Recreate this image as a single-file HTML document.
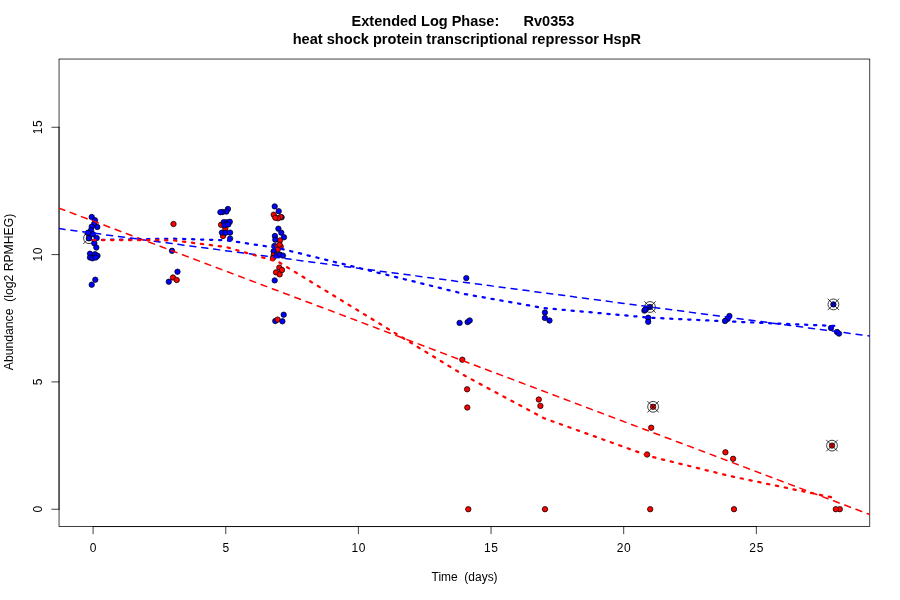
<!DOCTYPE html><html><head><meta charset="utf-8"><style>html,body{margin:0;padding:0;background:#fff;width:900px;height:600px;overflow:hidden}</style></head><body><svg width="900" height="600" viewBox="0 0 900 600" style="position:absolute;left:0;top:0;will-change:transform">
<rect width="900" height="600" fill="#fff"/>
<g stroke="#000" stroke-width="0.75" fill="none" stroke-linecap="round">
<rect x="59.04" y="59.04" width="810.72" height="467.5199999999999"/>
<path d="M93.10 526.56V533.76"/>
<path d="M225.75 526.56V533.76"/>
<path d="M358.40 526.56V533.76"/>
<path d="M491.05 526.56V533.76"/>
<path d="M623.70 526.56V533.76"/>
<path d="M756.35 526.56V533.76"/>
<path d="M59.04 509.24H51.839999999999996"/>
<path d="M59.04 381.92H51.839999999999996"/>
<path d="M59.04 254.60H51.839999999999996"/>
<path d="M59.04 127.28H51.839999999999996"/>
<path d="M93.10 526.56H756.35"/>
<path d="M59.04 509.24V127.28"/>
</g>
<g>
<circle cx="89" cy="238.2" r="2.7" fill="#0000ff" stroke="#000" stroke-width="0.75"/><circle cx="89" cy="238.2" r="5.4" fill="none" stroke="#000" stroke-width="0.75"/><path d="M83.3 232.5L94.7 243.89999999999998M83.3 243.89999999999998L94.7 232.5" stroke="#000" stroke-width="0.75" fill="none"/>
<circle cx="91.7" cy="217" r="2.7" fill="#0000ff" stroke="#000" stroke-width="0.75"/>
<circle cx="95" cy="220.3" r="2.7" fill="#0000ff" stroke="#000" stroke-width="0.75"/>
<circle cx="94.3" cy="223.7" r="2.7" fill="#0000ff" stroke="#000" stroke-width="0.75"/>
<circle cx="91.7" cy="226.7" r="2.7" fill="#0000ff" stroke="#000" stroke-width="0.75"/>
<circle cx="97.3" cy="227" r="2.7" fill="#0000ff" stroke="#000" stroke-width="0.75"/>
<circle cx="91" cy="230.3" r="2.7" fill="#0000ff" stroke="#000" stroke-width="0.75"/>
<circle cx="88" cy="232.7" r="2.7" fill="#0000ff" stroke="#000" stroke-width="0.75"/>
<circle cx="93" cy="234.3" r="2.7" fill="#0000ff" stroke="#000" stroke-width="0.75"/>
<circle cx="89" cy="238.2" r="2.7" fill="#0000ff" stroke="#000" stroke-width="0.75"/>
<circle cx="96.7" cy="238" r="2.7" fill="#0000ff" stroke="#000" stroke-width="0.75"/>
<circle cx="94.3" cy="243.3" r="2.7" fill="#0000ff" stroke="#000" stroke-width="0.75"/>
<circle cx="96.3" cy="247.5" r="2.7" fill="#0000ff" stroke="#000" stroke-width="0.75"/>
<circle cx="90" cy="253.7" r="2.7" fill="#0000ff" stroke="#000" stroke-width="0.75"/>
<circle cx="95" cy="254.2" r="2.7" fill="#0000ff" stroke="#000" stroke-width="0.75"/>
<circle cx="97.5" cy="255.8" r="2.7" fill="#0000ff" stroke="#000" stroke-width="0.75"/>
<circle cx="90" cy="257.5" r="2.7" fill="#0000ff" stroke="#000" stroke-width="0.75"/>
<circle cx="92.5" cy="258.3" r="2.7" fill="#0000ff" stroke="#000" stroke-width="0.75"/>
<circle cx="95.8" cy="257.5" r="2.7" fill="#0000ff" stroke="#000" stroke-width="0.75"/>
<circle cx="95.3" cy="279.7" r="2.7" fill="#0000ff" stroke="#000" stroke-width="0.75"/>
<circle cx="91.7" cy="284.7" r="2.7" fill="#0000ff" stroke="#000" stroke-width="0.75"/>
<circle cx="173.5" cy="224.0" r="2.7" fill="#ff0000" stroke="#000" stroke-width="0.75"/>
<circle cx="172" cy="250.8" r="2.7" fill="#0000ff" stroke="#000" stroke-width="0.75"/>
<circle cx="177.5" cy="271.7" r="2.7" fill="#0000ff" stroke="#000" stroke-width="0.75"/>
<circle cx="168.8" cy="281.7" r="2.7" fill="#0000ff" stroke="#000" stroke-width="0.75"/>
<circle cx="173" cy="277.5" r="2.7" fill="#ff0000" stroke="#000" stroke-width="0.75"/>
<circle cx="176.7" cy="280" r="2.7" fill="#ff0000" stroke="#000" stroke-width="0.75"/>
<circle cx="221.1" cy="224.8" r="2.7" fill="#ff0000" stroke="#000" stroke-width="0.75"/>
<circle cx="225.3" cy="228.5" r="2.7" fill="#ff0000" stroke="#000" stroke-width="0.75"/>
<circle cx="223" cy="236" r="2.7" fill="#ff0000" stroke="#000" stroke-width="0.75"/>
<circle cx="227.9" cy="209" r="2.7" fill="#0000ff" stroke="#000" stroke-width="0.75"/>
<circle cx="226.4" cy="211.6" r="2.7" fill="#0000ff" stroke="#000" stroke-width="0.75"/>
<circle cx="222.6" cy="212" r="2.7" fill="#0000ff" stroke="#000" stroke-width="0.75"/>
<circle cx="220.4" cy="212.2" r="2.7" fill="#0000ff" stroke="#000" stroke-width="0.75"/>
<circle cx="223.8" cy="222.1" r="2.7" fill="#0000ff" stroke="#000" stroke-width="0.75"/>
<circle cx="226.8" cy="222.3" r="2.7" fill="#0000ff" stroke="#000" stroke-width="0.75"/>
<circle cx="229.8" cy="221.8" r="2.7" fill="#0000ff" stroke="#000" stroke-width="0.75"/>
<circle cx="224.5" cy="225.3" r="2.7" fill="#0000ff" stroke="#000" stroke-width="0.75"/>
<circle cx="228.3" cy="224.4" r="2.7" fill="#0000ff" stroke="#000" stroke-width="0.75"/>
<circle cx="221.9" cy="232.6" r="2.7" fill="#0000ff" stroke="#000" stroke-width="0.75"/>
<circle cx="225.6" cy="232.8" r="2.7" fill="#0000ff" stroke="#000" stroke-width="0.75"/>
<circle cx="230.1" cy="232.6" r="2.7" fill="#0000ff" stroke="#000" stroke-width="0.75"/>
<circle cx="230.1" cy="238.6" r="2.7" fill="#0000ff" stroke="#000" stroke-width="0.75"/>
<circle cx="274.7" cy="206.4" r="2.7" fill="#0000ff" stroke="#000" stroke-width="0.75"/>
<circle cx="278.7" cy="211.2" r="2.7" fill="#0000ff" stroke="#000" stroke-width="0.75"/>
<circle cx="281.6" cy="217.3" r="2.7" fill="#0000ff" stroke="#000" stroke-width="0.75"/>
<circle cx="273.7" cy="214.7" r="2.7" fill="#ff0000" stroke="#000" stroke-width="0.75"/>
<circle cx="280.7" cy="217" r="2.7" fill="#ff0000" stroke="#000" stroke-width="0.75"/>
<circle cx="278" cy="218.3" r="2.7" fill="#ff0000" stroke="#000" stroke-width="0.75"/>
<circle cx="275.3" cy="217.7" r="2.7" fill="#ff0000" stroke="#000" stroke-width="0.75"/>
<circle cx="278.4" cy="228.7" r="2.7" fill="#0000ff" stroke="#000" stroke-width="0.75"/>
<circle cx="281.3" cy="232.7" r="2.7" fill="#0000ff" stroke="#000" stroke-width="0.75"/>
<circle cx="274.9" cy="236" r="2.7" fill="#0000ff" stroke="#000" stroke-width="0.75"/>
<circle cx="284" cy="237.3" r="2.7" fill="#0000ff" stroke="#000" stroke-width="0.75"/>
<circle cx="280" cy="240.4" r="2.7" fill="#ff0000" stroke="#000" stroke-width="0.75"/>
<circle cx="275.3" cy="239.7" r="2.7" fill="#0000ff" stroke="#000" stroke-width="0.75"/>
<circle cx="274.4" cy="246" r="2.7" fill="#0000ff" stroke="#000" stroke-width="0.75"/>
<circle cx="277.3" cy="246.7" r="2.7" fill="#ff0000" stroke="#000" stroke-width="0.75"/>
<circle cx="280.7" cy="246.7" r="2.7" fill="#ff0000" stroke="#000" stroke-width="0.75"/>
<circle cx="279.6" cy="244.7" r="2.7" fill="#ff0000" stroke="#000" stroke-width="0.75"/>
<circle cx="277.7" cy="249.6" r="2.7" fill="#ff0000" stroke="#000" stroke-width="0.75"/>
<circle cx="273.6" cy="251.3" r="2.7" fill="#0000ff" stroke="#000" stroke-width="0.75"/>
<circle cx="273.7" cy="255.2" r="2.7" fill="#ff0000" stroke="#000" stroke-width="0.75"/>
<circle cx="273" cy="258" r="2.7" fill="#ff0000" stroke="#000" stroke-width="0.75"/>
<circle cx="276.7" cy="255.3" r="2.7" fill="#0000ff" stroke="#000" stroke-width="0.75"/>
<circle cx="280" cy="254.7" r="2.7" fill="#0000ff" stroke="#000" stroke-width="0.75"/>
<circle cx="283" cy="255.6" r="2.7" fill="#0000ff" stroke="#000" stroke-width="0.75"/>
<circle cx="279.3" cy="267.6" r="2.7" fill="#ff0000" stroke="#000" stroke-width="0.75"/>
<circle cx="276" cy="272.4" r="2.7" fill="#ff0000" stroke="#000" stroke-width="0.75"/>
<circle cx="279.7" cy="274.4" r="2.7" fill="#ff0000" stroke="#000" stroke-width="0.75"/>
<circle cx="282" cy="270" r="2.7" fill="#ff0000" stroke="#000" stroke-width="0.75"/>
<circle cx="274.7" cy="280.4" r="2.7" fill="#0000ff" stroke="#000" stroke-width="0.75"/>
<circle cx="283.7" cy="314.7" r="2.7" fill="#0000ff" stroke="#000" stroke-width="0.75"/>
<circle cx="275.3" cy="321" r="2.7" fill="#0000ff" stroke="#000" stroke-width="0.75"/>
<circle cx="277.6" cy="319.6" r="2.7" fill="#ff0000" stroke="#000" stroke-width="0.75"/>
<circle cx="282.4" cy="321.3" r="2.7" fill="#0000ff" stroke="#000" stroke-width="0.75"/>
<circle cx="466.3" cy="278.1" r="2.7" fill="#0000ff" stroke="#000" stroke-width="0.75"/>
<circle cx="459.6" cy="322.9" r="2.7" fill="#0000ff" stroke="#000" stroke-width="0.75"/>
<circle cx="467.6" cy="322.1" r="2.7" fill="#0000ff" stroke="#000" stroke-width="0.75"/>
<circle cx="469.7" cy="320.5" r="2.7" fill="#0000ff" stroke="#000" stroke-width="0.75"/>
<circle cx="462.3" cy="359.7" r="2.7" fill="#ff0000" stroke="#000" stroke-width="0.75"/>
<circle cx="467.1" cy="389.3" r="2.7" fill="#ff0000" stroke="#000" stroke-width="0.75"/>
<circle cx="467.3" cy="407.5" r="2.7" fill="#ff0000" stroke="#000" stroke-width="0.75"/>
<circle cx="468.3" cy="509.2" r="2.7" fill="#ff0000" stroke="#000" stroke-width="0.75"/>
<circle cx="544.9" cy="312.5" r="2.7" fill="#0000ff" stroke="#000" stroke-width="0.75"/>
<circle cx="544.9" cy="317.9" r="2.7" fill="#0000ff" stroke="#000" stroke-width="0.75"/>
<circle cx="549.5" cy="320.5" r="2.7" fill="#0000ff" stroke="#000" stroke-width="0.75"/>
<circle cx="538.8" cy="399.5" r="2.7" fill="#ff0000" stroke="#000" stroke-width="0.75"/>
<circle cx="540.4" cy="405.9" r="2.7" fill="#ff0000" stroke="#000" stroke-width="0.75"/>
<circle cx="545" cy="509.2" r="2.7" fill="#ff0000" stroke="#000" stroke-width="0.75"/>
<circle cx="650" cy="307" r="2.7" fill="#0000ff" stroke="#000" stroke-width="0.75"/><circle cx="650" cy="307" r="5.4" fill="none" stroke="#000" stroke-width="0.75"/><path d="M644.3 301.3L655.7 312.7M644.3 312.7L655.7 301.3" stroke="#000" stroke-width="0.75" fill="none"/>
<circle cx="646.0" cy="308.8" r="2.7" fill="#0000ff" stroke="#000" stroke-width="0.75"/>
<circle cx="644.4" cy="310.6" r="2.7" fill="#0000ff" stroke="#000" stroke-width="0.75"/>
<circle cx="645.2" cy="309.8" r="2.7" fill="#0000ff" stroke="#000" stroke-width="0.75"/>
<circle cx="648.2" cy="317.8" r="2.7" fill="#0000ff" stroke="#000" stroke-width="0.75"/>
<circle cx="648.2" cy="321.8" r="2.7" fill="#0000ff" stroke="#000" stroke-width="0.75"/>
<circle cx="653.1" cy="406.8" r="2.7" fill="#ff0000" stroke="#000" stroke-width="0.75"/><circle cx="653.1" cy="406.8" r="5.4" fill="none" stroke="#000" stroke-width="0.75"/><path d="M647.4 401.1L658.8000000000001 412.5M647.4 412.5L658.8000000000001 401.1" stroke="#000" stroke-width="0.75" fill="none"/>
<circle cx="651.2" cy="427.7" r="2.7" fill="#ff0000" stroke="#000" stroke-width="0.75"/>
<circle cx="647.1" cy="454.5" r="2.7" fill="#ff0000" stroke="#000" stroke-width="0.75"/>
<circle cx="650.2" cy="509.2" r="2.7" fill="#ff0000" stroke="#000" stroke-width="0.75"/>
<circle cx="729.4" cy="316" r="2.7" fill="#0000ff" stroke="#000" stroke-width="0.75"/>
<circle cx="727.6" cy="319" r="2.7" fill="#0000ff" stroke="#000" stroke-width="0.75"/>
<circle cx="725" cy="321" r="2.7" fill="#0000ff" stroke="#000" stroke-width="0.75"/>
<circle cx="725.4" cy="452.3" r="2.7" fill="#ff0000" stroke="#000" stroke-width="0.75"/>
<circle cx="733.1" cy="458.8" r="2.7" fill="#ff0000" stroke="#000" stroke-width="0.75"/>
<circle cx="734" cy="509.2" r="2.7" fill="#ff0000" stroke="#000" stroke-width="0.75"/>
<circle cx="833.4" cy="304.4" r="2.7" fill="#0000ff" stroke="#000" stroke-width="0.75"/><circle cx="833.4" cy="304.4" r="5.4" fill="none" stroke="#000" stroke-width="0.75"/><path d="M827.6999999999999 298.7L839.1 310.09999999999997M827.6999999999999 310.09999999999997L839.1 298.7" stroke="#000" stroke-width="0.75" fill="none"/>
<circle cx="831" cy="328" r="2.7" fill="#0000ff" stroke="#000" stroke-width="0.75"/>
<circle cx="837" cy="332" r="2.7" fill="#0000ff" stroke="#000" stroke-width="0.75"/>
<circle cx="839" cy="333.6" r="2.7" fill="#0000ff" stroke="#000" stroke-width="0.75"/>
<circle cx="832" cy="445.6" r="2.7" fill="#ff0000" stroke="#000" stroke-width="0.75"/><circle cx="832" cy="445.6" r="5.4" fill="none" stroke="#000" stroke-width="0.75"/><path d="M826.3 439.90000000000003L837.7 451.3M826.3 451.3L837.7 439.90000000000003" stroke="#000" stroke-width="0.75" fill="none"/>
<circle cx="839.8" cy="509.2" r="2.7" fill="#ff0000" stroke="#000" stroke-width="0.75"/>
<circle cx="835.8" cy="509.2" r="2.7" fill="#ff0000" stroke="#000" stroke-width="0.75"/>
</g>
<clipPath id="cp"><rect x="59.04" y="59.04" width="810.72" height="467.5199999999999"/></clipPath>
<g clip-path="url(#cp)" fill="none" stroke-linecap="round" stroke-linejoin="round">
<path d="M59.04 228.6L869.76 336" stroke="#0000ff" stroke-width="1.5" stroke-dasharray="6 6"/>
<path d="M59.04 208.1L869.76 514.5" stroke="#ff0000" stroke-width="1.5" stroke-dasharray="6 6"/>
<path d="M93.1 240.0L172.7 238.7L225.8 240.2L278.8 248.2L464.5 294.0L544.1 308.1L650.2 317.7L729.8 321.5L835.9 326.0" stroke="#0000ff" stroke-width="2.25" stroke-dasharray="2.25 6.75"/>
<path d="M93.1 240.0L172.7 240.3L225.8 247.0L278.8 262.1L464.5 375.5L544.1 418.3L650.2 456.4L729.8 476.0L835.9 498.2" stroke="#ff0000" stroke-width="2.25" stroke-dasharray="2.25 6.75"/>
</g>
<g font-family="Liberation Sans, sans-serif" font-size="12" fill="#000" text-anchor="middle">
<text x="93.10" y="551.8">0</text>
<text x="225.75" y="551.8">5</text>
<text x="358.40" y="551.8" textLength="14" lengthAdjust="spacing">10</text>
<text x="491.05" y="551.8" textLength="14" lengthAdjust="spacing">15</text>
<text x="623.70" y="551.8" textLength="14" lengthAdjust="spacing">20</text>
<text x="756.35" y="551.8" textLength="14" lengthAdjust="spacing">25</text>
<text transform="translate(41.9 509.24) rotate(-90)">0</text>
<text transform="translate(41.9 381.92) rotate(-90)">5</text>
<text transform="translate(41.9 254.60) rotate(-90)" textLength="14" lengthAdjust="spacing">10</text>
<text transform="translate(41.9 127.28) rotate(-90)" textLength="14" lengthAdjust="spacing">15</text>
<text x="464.6" y="580.9" textLength="66" lengthAdjust="spacingAndGlyphs" xml:space="preserve">Time  (days)</text>
<text transform="translate(13.0 292.0) rotate(-90)" textLength="156.5" lengthAdjust="spacingAndGlyphs" xml:space="preserve">Abundance  (log2 RPMHEG)</text>
<g font-size="14.6" font-weight="bold"><text x="463" y="26" textLength="222.8" lengthAdjust="spacingAndGlyphs" xml:space="preserve">Extended Log Phase:      Rv0353</text>
<text x="466.9" y="43.6" textLength="348.4" lengthAdjust="spacingAndGlyphs">heat shock protein transcriptional repressor HspR</text></g>
</g>
</svg></body></html>
